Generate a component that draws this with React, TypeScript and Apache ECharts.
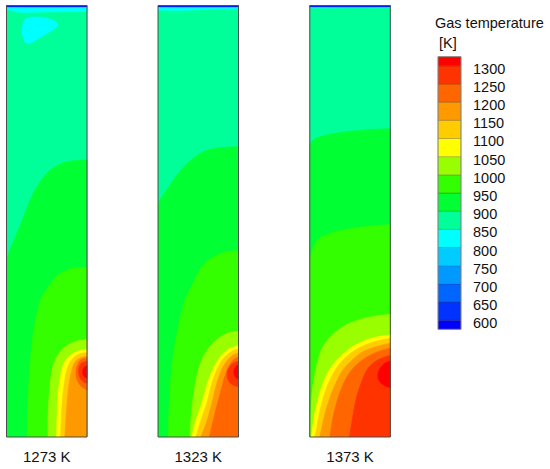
import { useEffect, useRef } from 'react';
import * as echarts from 'echarts';

// ---------------- data ----------------
// contour levels (K) and the 16 colour bins (<600, 600-650, ..., >1300)
const levels = [600, 650, 700, 750, 800, 850, 900, 950, 1000, 1050, 1100, 1150, 1200, 1250, 1300];
const binColors = [
  '#0000ff', '#0033ff', '#0066ff', '#0099ff', '#00ccff', '#00ffff', '#00ff99', '#00ff33',
  '#33ff00', '#99ff00', '#ffff00', '#ffcc00', '#ff9900', '#ff6600', '#ff3300', '#ff0000',
];
const legendRange = [575, 1325];
const legendAxisRange = [550, 1350];
const legendStep = 50;
const legendTitle = 'Gas temperature\n [K]';
const panelLabels = ['1273 K', '1323 K', '1373 K'];
// domain of each panel: radial position (0 = axis side, 80 = wall) and height
const domainX = [0, 80];
const domainY = [0, 436];
const backgroundLevel = 850; // bulk of each panel lies in 850-900 K

// ---- 1273 K isolines [x, y] ----
const p1Cold600 = [[0, 434.8], [80, 434.8]];
const p1Cold850Top = [[0, 432.5], [13, 429.2], [40, 429.5], [80, 430]];
const p1Cold850Spot = [[17, 419.5], [21, 423.5], [29, 424.5], [39, 423.5], [47, 420.5], [51, 417.5], [50, 414.5], [43, 409.5], [35, 404.5], [27, 399.5], [22, 397.5], [18, 399.5], [16, 405.5], [15, 412.5]];
const p1Hot900 = [[80, 280], [60, 278], [46, 271.5], [36, 261.5], [26, 245], [18, 225], [10, 205], [3, 188], [0, 178]];
const p1Hot950 = [[80, 171.5], [70, 171], [60, 168.5], [50, 162.5], [43, 153.5], [35, 141.5], [32, 131.5], [27, 108.5], [23.5, 74.5], [21.5, 41.5], [20.5, 0]];
const p1Hot1000 = [[80, 98.5], [70, 97], [60, 92.5], [52, 84.5], [47, 74.5], [44, 59.5], [42.3, 41.5], [41.3, 21.5], [41.3, 0]];
const p1Hot1050 = [[80, 88.5], [73, 87.5], [65.5, 84], [59, 78], [55, 68.5], [52.5, 53.5], [51, 41.5], [50.3, 21.5], [49.7, 0]];
const p1Hot1100 = [[80, 85], [73, 84.2], [66.3, 79.8], [61.3, 71.5], [58, 58.2], [55.7, 38.2], [53.7, 0]];
const p1Hot1150 = [[80, 81.5], [73, 79.8], [68, 75.5], [64.7, 66.5], [62, 51.5], [59.7, 28.2], [58, 0]];
const p1Hot1200 = [[80, 79.8], [74, 78.2], [70.7, 73.2], [69, 66.5], [70, 58.2], [74, 51.5], [80, 47.5]];
const p1Hot1250 = [[80, 76.5], [74, 74.2], [71.7, 68.2], [73, 59.8], [76.7, 55.5], [80, 54.2]];
const p1Hot1300 = [[80, 72.2], [76.7, 69.8], [75.7, 64.8], [77.3, 60.8], [80, 59.5]];

// ---- 1323 K isolines ----
const p2Cold600 = [[0, 434.8], [80, 434.8]];
const p2Cold850Top = [[0, 431.5], [20, 431], [50, 432], [80, 432.5]];
const p2Hot900 = [[80, 293.2], [68.7, 292.8], [55.3, 291.5], [42, 286.5], [30.3, 277.5], [20.3, 266.5], [12, 254.8], [5.3, 244.8], [0, 236.5]];
const p2Hot950 = [[80, 188.2], [65.3, 186.5], [52, 179.8], [42, 169.8], [35.3, 156.5], [27, 138.5], [20, 110.5], [14.5, 77.5], [11.8, 44.5], [10, 0]];
const p2Hot1000 = [[80, 106.5], [68, 104.7], [57, 97.4], [48, 86.5], [43.5, 78], [38.6, 61.5], [34.5, 36.5], [32.5, 15], [32, 0]];
const p2Hot1050 = [[80, 92.2], [72, 89.8], [63.7, 83.2], [57, 73.2], [50.3, 58.2], [43.7, 34.8], [37, 14.8], [33.7, 0]];
const p2Hot1100 = [[80, 88.8], [73, 86.5], [65.3, 79.8], [59.3, 69.8], [53.7, 54.8], [48.7, 34.8], [42, 14.8], [37.7, 0]];
const p2Hot1150 = [[80, 84.8], [74.3, 82.5], [67.7, 75.8], [62.3, 65.5], [57.7, 51.5], [53, 31.5], [47, 11.5], [42.7, 0]];
const p2Hot1200 = [[80, 80.8], [75.3, 78.2], [70.3, 71.5], [66, 59.8], [62, 44.8], [57.7, 28.2], [53.7, 11.5], [51, 0]];
const p2Hot1250 = [[80, 76.5], [75.3, 74.8], [71, 70.8], [68.7, 64.2], [70.3, 56.5], [75.3, 52.2], [80, 50.8]];
const p2Hot1300 = [[80, 73.2], [77, 70.8], [75.3, 65.5], [77, 60.5], [80, 58.2]];

// ---- 1373 K isolines ----
const p3Cold600 = [[0, 434.8], [80, 434.8]];
const p3Cold850Top = [[0, 433.6], [40, 433.8], [80, 433.8]];
const p3Hot900 = [[80, 311.5], [63.3, 310.8], [43.3, 309.2], [23.3, 306.5], [6.7, 302.2], [1.7, 298.2], [0, 294.8]];
const p3Hot950 = [[80, 214.5], [63, 213.5], [47, 211.5], [30, 208.5], [17, 204.5], [8, 199.5], [4, 192.5], [1.5, 185.5], [0, 179.5]];
const p3Hot1000 = [[80, 124], [62.5, 121.8], [46, 117.5], [32.5, 111.2], [21, 101.8], [12.5, 90.5], [7.5, 75], [4, 58], [2, 41.5], [0.8, 15], [0.3, 0]];
const p3Hot1050 = [[80, 103.2], [64, 100.5], [49, 95], [36, 86.5], [25, 75.5], [16, 61.5], [10, 44.5], [6, 29.5], [3.5, 14.5], [1.7, 0]];
const p3Hot1100 = [[80, 99.8], [65, 96.5], [51.7, 91.5], [40, 84.2], [29, 73.2], [21, 59.8], [15, 44.8], [10, 26.5], [6.7, 8.2], [5, 0]];
const p3Hot1150 = [[80, 94.8], [66.7, 91.5], [53.3, 86.5], [43.3, 78.8], [33.3, 68.2], [26, 54.8], [20, 39.8], [15, 23.2], [11.7, 8.2], [10, 0]];
const p3Hot1200 = [[80, 89.8], [68.3, 86.5], [56.7, 80.8], [46.7, 73.2], [38.3, 63.2], [31.7, 49.8], [26.7, 34.8], [22.7, 18.2], [20, 0]];
const p3Hot1250 = [[80, 82.5], [70, 79], [62, 74], [56, 66.5], [51, 54.5], [46, 38.2], [42, 16.5], [39.5, 0]];
const p3Hot1300 = [[80, 76.5], [75, 74.8], [70, 69.8], [67.7, 63.2], [69, 56.5], [75, 51.5], [80, 49.8]];

type Close = 'above' | 'below' | 'loop';
type Iso = { level: number; cold: boolean; close: Close; line: number[][] };

const panelIsolines: Iso[][] = [
  [
    { level: 850, cold: true, close: 'above', line: p1Cold850Top },
    { level: 600, cold: true, close: 'above', line: p1Cold600 },
    { level: 850, cold: true, close: 'loop', line: p1Cold850Spot },
    { level: 900, cold: false, close: 'below', line: p1Hot900 },
    { level: 950, cold: false, close: 'below', line: p1Hot950 },
    { level: 1000, cold: false, close: 'below', line: p1Hot1000 },
    { level: 1050, cold: false, close: 'below', line: p1Hot1050 },
    { level: 1100, cold: false, close: 'below', line: p1Hot1100 },
    { level: 1150, cold: false, close: 'below', line: p1Hot1150 },
    { level: 1200, cold: false, close: 'loop', line: p1Hot1200 },
    { level: 1250, cold: false, close: 'loop', line: p1Hot1250 },
    { level: 1300, cold: false, close: 'loop', line: p1Hot1300 },
  ],
  [
    { level: 850, cold: true, close: 'above', line: p2Cold850Top },
    { level: 600, cold: true, close: 'above', line: p2Cold600 },
    { level: 900, cold: false, close: 'below', line: p2Hot900 },
    { level: 950, cold: false, close: 'below', line: p2Hot950 },
    { level: 1000, cold: false, close: 'below', line: p2Hot1000 },
    { level: 1050, cold: false, close: 'below', line: p2Hot1050 },
    { level: 1100, cold: false, close: 'below', line: p2Hot1100 },
    { level: 1150, cold: false, close: 'below', line: p2Hot1150 },
    { level: 1200, cold: false, close: 'below', line: p2Hot1200 },
    { level: 1250, cold: false, close: 'loop', line: p2Hot1250 },
    { level: 1300, cold: false, close: 'loop', line: p2Hot1300 },
  ],
  [
    { level: 850, cold: true, close: 'above', line: p3Cold850Top },
    { level: 600, cold: true, close: 'above', line: p3Cold600 },
    { level: 900, cold: false, close: 'below', line: p3Hot900 },
    { level: 950, cold: false, close: 'below', line: p3Hot950 },
    { level: 1000, cold: false, close: 'below', line: p3Hot1000 },
    { level: 1050, cold: false, close: 'below', line: p3Hot1050 },
    { level: 1100, cold: false, close: 'below', line: p3Hot1100 },
    { level: 1150, cold: false, close: 'below', line: p3Hot1150 },
    { level: 1200, cold: false, close: 'below', line: p3Hot1200 },
    { level: 1250, cold: false, close: 'below', line: p3Hot1250 },
    { level: 1300, cold: false, close: 'loop', line: p3Hot1300 },
  ],
];

// ---------------- layout / style ----------------
const FONT = 'Arial, "Liberation Sans", Helvetica, sans-serif';
const panelLefts = [6.5, 158, 309.8];
const panelTop = 5.5;
const panelW = 80.5;
const panelH = 436;
const barLeft = 438;
const barW = 23;
const barTop = 47.6;
const barH = 290.8;
const labelDrop = 3;

// ---------------- helpers ----------------
const X0 = domainX[0], X1 = domainX[1], Y0 = domainY[0], Y1 = domainY[1];
const onEdge = (p: number[]) =>
  p[0] <= X0 + 1e-6 || p[0] >= X1 - 1e-6 || p[1] <= Y0 + 1e-6 || p[1] >= Y1 - 1e-6;
const nudge = (a: number[], b: number[], d = 0.6) => {
  const dx = b[0] - a[0], dy = b[1] - a[1];
  const len = Math.hypot(dx, dy) || 1;
  return [a[0] + (dx / len) * d, a[1] + (dy / len) * d];
};

type Poly = { points: number[][]; bin: number; smooth: boolean };

function regionOf(iso: Iso): Poly {
  const line = iso.line;
  const first = line[0];
  const last = line[line.length - 1];
  let tail: number[][] = [];
  if (iso.close === 'above') tail = [[X1, Y1], [X0, Y1]];
  else if (iso.close === 'below')
    tail = last[0] <= X0 + 1e-6 && last[1] > Y0 + 1e-6 ? [[X0, Y0], [X1, Y0]] : [[X1, Y0]];
  let points: number[][];
  if (!onEdge(first) || !onEdge(last)) points = line.concat(tail);
  else {
    const nextAfter = tail.length ? tail[0] : first;
    const prevBefore = tail.length ? tail[tail.length - 1] : last;
    points = [...line, nudge(last, nextAfter), ...tail, nudge(first, prevBefore)];
  }
  const idx = levels.indexOf(iso.level);
  return { points, bin: iso.cold ? idx : idx + 1, smooth: true };
}

function panelPolys(isos: Iso[]): Poly[] {
  const base: Poly = {
    points: [[X0, Y0], [X1, Y0], [X1, Y1], [X0, Y1]],
    bin: levels.indexOf(backgroundLevel) + 1,
    smooth: false,
  };
  return [base, ...isos.map(regionOf)];
}

function buildOption() {
  const grids: any[] = [];
  const xAxes: any[] = [];
  const yAxes: any[] = [];
  const series: any[] = [];

  panelIsolines.forEach((isos, i) => {
    grids.push({ left: panelLefts[i], top: panelTop, width: panelW, height: panelH });
    xAxes.push({
      gridIndex: i, type: 'value', min: X0, max: X1,
      axisLine: { show: false }, axisTick: { show: false }, axisLabel: { show: false }, splitLine: { show: false },
      name: panelLabels[i], nameLocation: 'middle', nameGap: 12,
      nameTextStyle: { fontFamily: FONT, fontSize: 15, color: '#111' },
    });
    yAxes.push({ gridIndex: i, type: 'value', min: Y0, max: Y1, show: false });
    const polys = panelPolys(isos);
    series.push({
      type: 'custom', xAxisIndex: i, yAxisIndex: i, silent: true, clip: true,
      data: polys.map(() => [X0, Y0]),
      renderItem: (params: any, api: any) => {
        const poly = polys[params.dataIndex];
        const cs = params.coordSys;
        const pts = poly.points.map((p) => api.coord(p));
        const color = binColors[poly.bin];
        return {
          type: 'polygon',
          shape: {
            points: pts,
            smooth: poly.smooth ? 0.35 : 0,
            smoothConstraint: [[cs.x, cs.y], [cs.x + cs.width, cs.y + cs.height]],
          },
          style: { fill: color, stroke: color, lineWidth: 0.6 },
        };
      },
    });
    series.push({
      type: 'custom', xAxisIndex: i, yAxisIndex: i, silent: true, z: 5,
      data: [[X0, Y0]],
      renderItem: (_p: any, api: any) => {
        const a = api.coord([X0, Y1]);
        const b = api.coord([X1, Y0]);
        return {
          type: 'rect',
          shape: { x: a[0], y: a[1], width: b[0] - a[0], height: b[1] - a[1] },
          style: { fill: 'none', stroke: '#4d4d4d', lineWidth: 1 },
        };
      },
    });
  });

  // colour bar
  const gi = 3;
  grids.push({ left: barLeft, top: barTop, width: barW, height: barH });
  xAxes.push({ gridIndex: gi, type: 'value', min: 0, max: 1, show: false });
  yAxes.push({
    gridIndex: gi, type: 'value', min: legendAxisRange[0], max: legendAxisRange[1], show: false,
  });
  series.push({
    type: 'custom', xAxisIndex: gi, yAxisIndex: gi, silent: true,
    data: binColors.map((_, k) => [0, k]),
    renderItem: (params: any, api: any) => {
      const k = params.dataIndex;
      const lo = k === 0 ? legendRange[0] : levels[k - 1];
      const hi = k === binColors.length - 1 ? legendRange[1] : levels[k];
      const a = api.coord([0, hi]);
      const b = api.coord([1, lo]);
      return {
        type: 'rect',
        shape: { x: a[0], y: a[1], width: b[0] - a[0], height: b[1] - a[1] },
        style: { fill: binColors[k], stroke: 'rgba(0,0,0,0.3)', lineWidth: 0.6 },
      };
    },
  });
  series.push({
    type: 'custom', xAxisIndex: gi, yAxisIndex: gi, silent: true, z: 5,
    data: [[0, legendRange[0]]],
    renderItem: (_p: any, api: any) => {
      const a = api.coord([0, legendRange[1]]);
      const b = api.coord([1, legendRange[0]]);
      return {
        type: 'rect',
        shape: { x: a[0], y: a[1], width: b[0] - a[0], height: b[1] - a[1] },
        style: { fill: 'none', stroke: '#8a8a8a', lineWidth: 1 },
      };
    },
  });

  // colour-bar tick labels (same scale, text sits slightly below each level)
  const li = 4;
  grids.push({ left: barLeft, top: barTop + labelDrop, width: barW, height: barH });
  xAxes.push({ gridIndex: li, type: 'value', min: 0, max: 1, show: false });
  yAxes.push({
    gridIndex: li, type: 'value', position: 'right',
    min: legendAxisRange[0], max: legendAxisRange[1], interval: legendStep,
    axisLine: { show: false }, axisTick: { show: false }, splitLine: { show: false },
    axisLabel: {
      margin: 12, fontFamily: FONT, fontSize: 14.5, color: '#111',
      showMinLabel: false, showMaxLabel: false,
      formatter: (v: number) => (v < levels[0] || v > levels[levels.length - 1] ? '' : String(v)),
    },
  });

  return {
    animation: false,
    backgroundColor: '#ffffff',
    title: {
      text: legendTitle, left: 435, top: 13, padding: 0,
      textStyle: { fontFamily: FONT, fontSize: 14.5, fontWeight: 'normal', color: '#111', lineHeight: 20 },
    },
    grid: grids,
    xAxis: xAxes,
    yAxis: yAxes,
    series,
  };
}

export default function App() {
  const ref = useRef<HTMLDivElement>(null);
  useEffect(() => {
    if (!ref.current) return;
    const chart = echarts.init(ref.current, null, { renderer: 'svg' });
    chart.setOption(buildOption() as any);
    return () => chart.dispose();
  }, []);
  return (
    <div
      ref={ref}
      style={{ position: 'absolute', left: 0, top: 0, width: 550, height: 469, background: '#fff' }}
    />
  );
}
